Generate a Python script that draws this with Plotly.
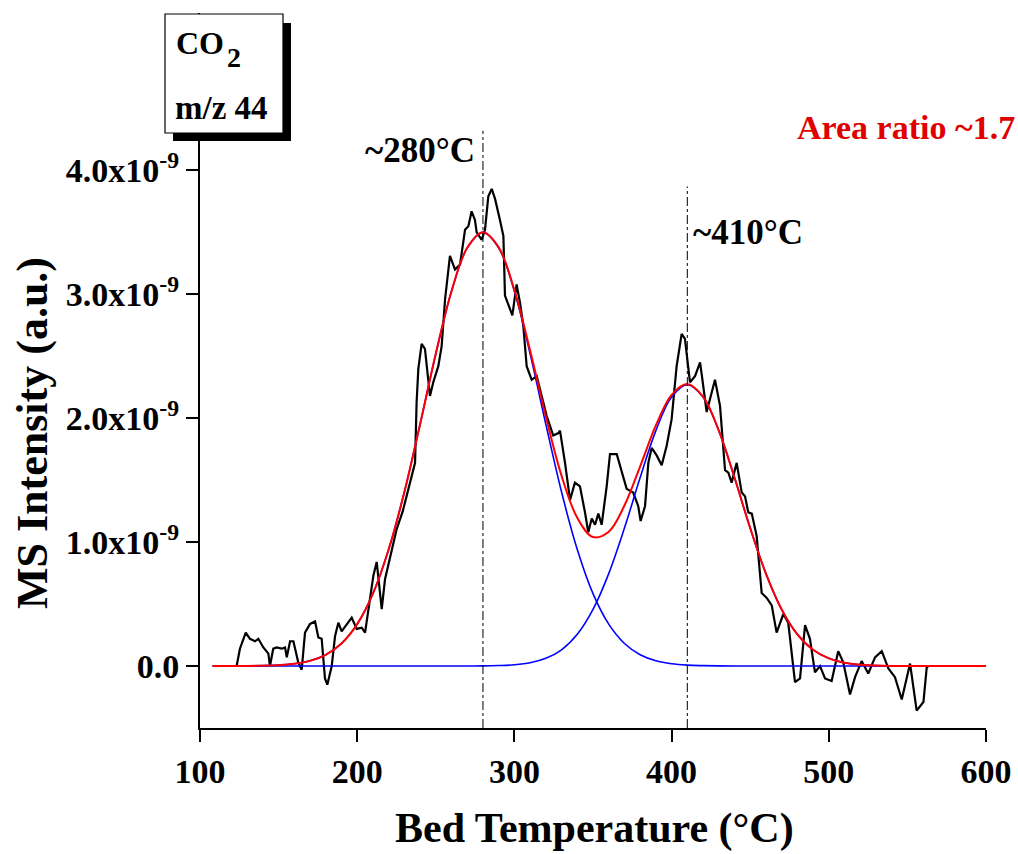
import plotly.graph_objects as go

SCALE = 1e-9

# Measured MS trace: bed temperature (°C) and intensity (units of 1e-9 a.u.)
trace_temp = [123.3, 125.4, 129.1, 131.8, 135.0, 137.1, 140.3, 143.5, 144.5, 146.6,
              148.8, 152.0, 154.1, 155.2, 157.3, 159.4, 162.5, 164.7, 166.8, 170.0,
              173.2, 175.3, 177.4, 179.5, 181.0, 183.8, 185.9, 188.0, 190.1, 196.5,
              199.7, 202.9, 205.0, 207.1, 210.3, 212.4, 215.6, 217.7, 219.8, 221.9,
              225.0, 229.0, 232.0, 235.0, 236.8, 237.8, 238.9, 241.0, 243.1, 246.3,
              248.4, 251.6, 253.7, 255.9, 259.0, 262.2, 265.4, 268.6, 270.7, 272.8,
              274.9, 276.0, 279.2, 281.3, 283.4, 285.6, 287.7, 290.8, 293.0, 294.0,
              296.2, 298.7, 301.4, 303.6, 305.7, 307.8, 311.0, 314.2, 320.5, 324.7,
              328.0, 329.0, 332.2, 335.4, 338.5, 341.7, 344.9, 347.0, 349.2, 351.3,
              353.4, 355.5, 358.7, 360.8, 365.1, 368.3, 371.4, 375.6, 378.8, 380.3,
              383.1, 385.2, 387.3, 390.5, 393.7, 396.9, 400.0, 403.2, 406.4, 408.5,
              410.6, 411.7, 414.9, 418.1, 419.2, 422.3, 427.6, 430.8, 434.0, 436.1,
              438.2, 441.4, 444.6, 446.7, 448.8, 451.0, 454.1, 457.3, 460.5, 463.7,
              466.8, 471.1, 474.2, 478.5, 481.7, 484.9, 488.0, 491.2, 494.4, 497.6,
              501.8, 506.0, 509.2, 513.5, 516.7, 520.9, 525.1, 529.4, 533.7, 537.9,
              542.1, 546.4, 551.7, 555.9, 560.2, 562.3, 563.4]
trace_val = [0.00, 0.14, 0.27, 0.22, 0.20, 0.22, 0.15, 0.10, 0.00, 0.14,
             0.15, 0.14, 0.15, 0.07, 0.20, 0.20, 0.03, -0.03, 0.27, 0.34,
             0.36, 0.23, 0.22, -0.10, -0.15, 0.00, 0.24, 0.35, 0.28, 0.39,
             0.30, 0.31, 0.27, 0.47, 0.73, 0.84, 0.46, 0.70, 0.81, 0.94,
             1.10, 1.25, 1.40, 1.55, 1.64, 2.13, 2.40, 2.60, 2.56, 2.18,
             2.29, 2.42, 2.58, 2.96, 3.31, 3.20, 3.24, 3.52, 3.55, 3.67,
             3.60, 3.50, 3.44, 3.52, 3.79, 3.85, 3.77, 3.60, 3.47, 2.99,
             2.91, 2.83, 3.08, 2.93, 2.74, 2.42, 2.31, 2.34, 2.02, 1.86,
             1.88, 1.90, 1.64, 1.34, 1.48, 1.45, 1.24, 1.08, 1.19, 1.14,
             1.23, 1.14, 1.45, 1.71, 1.71, 1.56, 1.43, 1.40, 1.29, 1.17,
             1.29, 1.64, 1.76, 1.70, 1.62, 1.78, 1.99, 2.42, 2.68, 2.64,
             2.42, 2.29, 2.34, 2.45, 2.35, 2.05, 2.31, 2.10, 1.58, 1.56,
             1.48, 1.64, 1.40, 1.37, 1.24, 1.23, 1.05, 0.59, 0.55, 0.49,
             0.27, 0.42, 0.35, -0.13, -0.10, 0.33, 0.22, -0.05, 0.00, -0.10,
             -0.12, 0.12, 0.03, -0.23, -0.09, 0.04, -0.06, 0.07, 0.12, -0.02,
             -0.09, -0.27, 0.02, -0.36, -0.29, -0.01, 0.00]

# Fitted curves (units of 1e-9 a.u.)
fit_temp = [108, 120, 130, 140, 150, 160, 170, 180, 190, 200,
            210, 220, 230, 240, 250, 260, 270, 280, 290, 300,
            310, 320, 330, 340, 350, 360, 370, 380, 390, 400,
            410, 420, 430, 440, 450, 460, 470, 480, 490, 500,
            510, 520, 530, 540, 550, 560, 570, 580, 590, 600]
peak1_val = [0, 0.0003, 0.001, 0.003, 0.007, 0.018, 0.042, 0.091, 0.182, 0.338,
             0.584, 0.940, 1.404, 1.951, 2.520, 3.024, 3.375, 3.500, 3.375, 3.024,
             2.520, 1.951, 1.404, 0.940, 0.584, 0.338, 0.182, 0.091, 0.042, 0.018,
             0.007, 0.003, 0.001, 0, 0, 0, 0, 0, 0, 0,
             0, 0, 0, 0, 0, 0, 0, 0, 0, 0]
peak2_val = [0, 0, 0, 0, 0, 0, 0, 0, 0, 0,
             0, 0, 0, 0, 0, 0, 0.0004, 0.001, 0.004, 0.010,
             0.026, 0.062, 0.131, 0.256, 0.457, 0.746, 1.113, 1.521, 1.900, 2.171,
             2.270, 2.171, 1.900, 1.521, 1.113, 0.746, 0.457, 0.256, 0.131, 0.062,
             0.026, 0.010, 0.004, 0.001, 0, 0, 0, 0, 0, 0]
fit_total_val = [0, 0.0003, 0.001, 0.003, 0.007, 0.018, 0.042, 0.091, 0.182, 0.338,
                 0.584, 0.940, 1.404, 1.951, 2.520, 3.024, 3.375, 3.501, 3.379, 3.034,
                 2.546, 2.013, 1.535, 1.196, 1.041, 1.084, 1.295, 1.612, 1.942, 2.189,
                 2.277, 2.174, 1.901, 1.521, 1.113, 0.746, 0.457, 0.256, 0.131, 0.062,
                 0.026, 0.010, 0.004, 0.001, 0, 0, 0, 0, 0, 0]

peak_temps = [280, 410]
peak_line_tops = [4.32, 3.87]
peak_labels = ["~280°C", "~410°C"]

x_tick_vals = [100, 200, 300, 400, 500, 600]
y_tick_vals = [0, 1, 2, 3, 4]
y_tick_text = ["0.0", "1.0x10<sup>-9</sup>", "2.0x10<sup>-9</sup>",
               "3.0x10<sup>-9</sup>", "4.0x10<sup>-9</sup>"]

x_range = [100, 600]
y_range = [-0.5, 5.27]

FONT = "Liberation Serif"
W, H = 1018, 854
ML, MR, MT, MB = 200, 32, 13, 126
PW, PH = W - ML - MR, H - MT - MB


def pxx(xp):
    return (xp - ML) / PW


def pxy(yp):
    return (MT + PH - yp) / PH


fig = go.Figure()
fig.add_trace(go.Scatter(x=trace_temp, y=[v * SCALE for v in trace_val], mode="lines",
                         line=dict(color="black", width=2.2), showlegend=False))
fig.add_trace(go.Scatter(x=fit_temp, y=[v * SCALE for v in peak1_val], mode="lines",
                         line=dict(color="#0000ff", width=1.6, shape="spline"), showlegend=False))
fig.add_trace(go.Scatter(x=fit_temp, y=[v * SCALE for v in peak2_val], mode="lines",
                         line=dict(color="#0000ff", width=1.6, shape="spline"), showlegend=False))
fig.add_trace(go.Scatter(x=fit_temp, y=[v * SCALE for v in fit_total_val], mode="lines",
                         line=dict(color="#ff0000", width=2, shape="spline"), showlegend=False))

shapes = []
for t, top in zip(peak_temps, peak_line_tops):
    shapes.append(dict(type="line", xref="x", yref="y", x0=t, x1=t,
                       y0=y_range[0] * SCALE, y1=top * SCALE,
                       line=dict(color="black", width=1, dash="dashdot"), layer="above"))
# label box with drop shadow
shapes.append(dict(type="rect", xref="paper", yref="paper",
                   x0=pxx(173), x1=pxx(291), y0=pxy(141), y1=pxy(23),
                   fillcolor="black", line=dict(width=0), layer="above"))
shapes.append(dict(type="rect", xref="paper", yref="paper",
                   x0=pxx(165), x1=pxx(283), y0=pxy(133), y1=pxy(14),
                   fillcolor="white", line=dict(color="black", width=1.2), layer="above"))

bold = dict(family=FONT, color="black", weight="bold")
annotations = [
    dict(text="CO", x=pxx(174), y=pxy(43), xanchor="left", yanchor="middle",
         font=dict(size=32, **bold)),
    dict(text="2", x=pxx(225), y=pxy(57), xanchor="left", yanchor="middle",
         font=dict(size=28, **bold)),
    dict(text="m/z 44", x=pxx(173), y=pxy(108), xanchor="left", yanchor="middle",
         font=dict(size=33, **bold)),
    dict(text=peak_labels[0], x=pxx(477), y=pxy(150), xanchor="right", yanchor="middle",
         font=dict(size=35, **bold)),
    dict(text=peak_labels[1], x=pxx(691), y=pxy(232), xanchor="left", yanchor="middle",
         font=dict(size=35, **bold)),
    dict(text="Area ratio ~1.7", x=pxx(795), y=pxy(127), xanchor="left", yanchor="middle",
         font=dict(size=34, family=FONT, color="#e00000", weight="bold")),
    dict(text="MS Intensity (a.u.)", x=pxx(32), y=pxy(433), textangle=-90,
         xanchor="center", yanchor="middle", font=dict(size=44, **bold)),
    dict(text="Bed Temperature (°C)", x=pxx(594), y=pxy(829),
         xanchor="center", yanchor="middle", font=dict(size=42, **bold)),
]
for a in annotations:
    a.update(xref="paper", yref="paper", showarrow=False)

fig.update_layout(
    width=W, height=H,
    margin=dict(l=ML, r=MR, t=MT, b=MB, pad=0, autoexpand=False),
    paper_bgcolor="white", plot_bgcolor="white",
    shapes=shapes, annotations=annotations,
    xaxis=dict(range=x_range, tickvals=x_tick_vals, ticks="outside", ticklen=12,
               tickwidth=2, tickcolor="black", showline=True, linecolor="black",
               linewidth=2, showgrid=False, zeroline=False, automargin=False,
               tickfont=dict(size=34, **bold)),
    yaxis=dict(range=[y_range[0] * SCALE, y_range[1] * SCALE],
               tickvals=[v * SCALE for v in y_tick_vals], ticktext=y_tick_text,
               ticks="outside", ticklen=12, tickwidth=2, tickcolor="black",
               showline=True, linecolor="black", linewidth=2, showgrid=False,
               zeroline=False, automargin=False, tickfont=dict(size=34, **bold)),
)

fig.write_html("out.html")
